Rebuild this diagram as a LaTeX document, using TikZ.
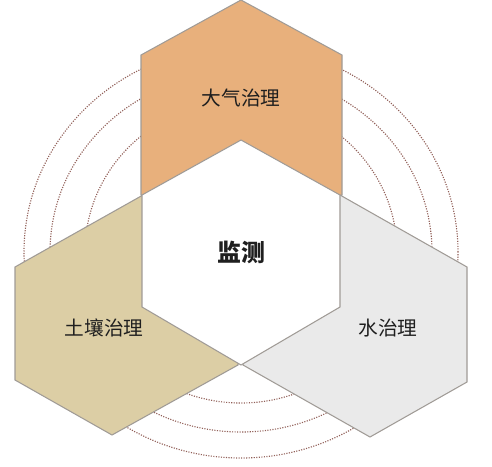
\documentclass[tikz,border=0pt]{standalone}
\usepackage{fontspec}
\newfontfamily\cjk{Noto Sans CJK SC}
\usetikzlibrary{positioning}
\definecolor{airfill}{RGB}{232,176,124}
\definecolor{soilfill}{RGB}{220,206,165}
\definecolor{waterfill}{RGB}{234,234,234}
\definecolor{hexline}{RGB}{160,155,150}
\definecolor{ringred}{RGB}{145,95,88}
\tikzset{
  hex/.style={draw=hexline, line width=0.75pt, line join=miter},
  ring/.style={draw=ringred, densely dotted, line width=0.8pt},
  lbl/.style={font=\cjk\fontsize{14}{16}\selectfont, text=black!88},
}

\begin{document}
\begin{tikzpicture}[x=0.25mm, y=-0.25mm]
        \useasboundingbox (0,0) rectangle (492,466);
        \coordinate (c) at (241,252); %centre of the middle hexagon

        % dotted rings behind
        \foreach \rx/\ry in {156/151, 191/180, 217/206}
          \draw[ring] (c) ellipse [x radius=\rx*0.25mm, y radius=\ry*0.25mm];

        % the three outer hexagons
        \filldraw[hex, fill=airfill] (241,0) -- (342,55) -- (342,195) -- (c) -- (141,195) -- (141,55) -- cycle;
        \filldraw[hex, fill=soilfill] (143,195) -- (15,267) -- (15,380) -- (112,435) -- (238,365) -- (c) -- cycle;
        \filldraw[hex, fill=waterfill] (340,195) -- (467,267) -- (467,382) -- (370,437) -- (243,365) -- (c) -- cycle;

        % middle hexagon
        \filldraw[hex, fill=white] (241,140) -- (340,195) -- (340,307) -- (241,365) -- (142,307) -- (142,195) -- cycle;

        \node[lbl] (air) at (241,98) {大气治理};
        \node[lbl] (soil) at (104,328) {土壤治理};
        \node[lbl] (water) at (388,328) {水治理};
        \node[lbl, font=\cjk\fontsize{17}{19}\selectfont\bfseries] (monitor) at (c) {监测};
      \end{tikzpicture}
\end{document}
